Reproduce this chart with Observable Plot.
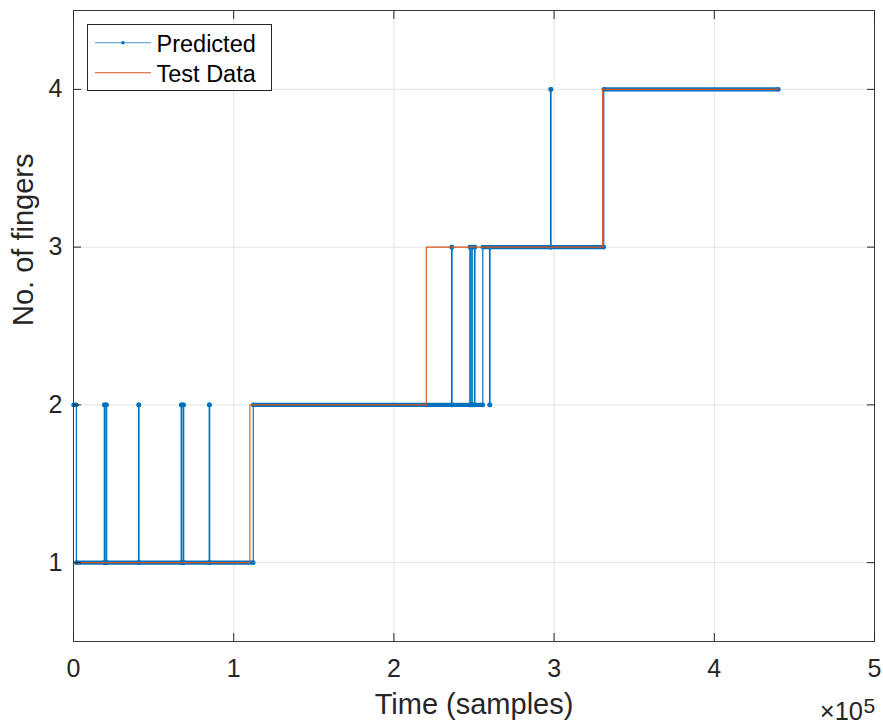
<!DOCTYPE html>
<html>
<head>
<meta charset="utf-8">
<script src="https://cdn.jsdelivr.net/npm/d3@7"></script>
<script src="https://cdn.jsdelivr.net/npm/@observablehq/plot@0.6"></script>
<style>
  html, body { margin: 0; padding: 0; background: #fff; }
  #chart svg { display: block; }
</style>
</head>
<body>
<div id="chart"></div>
<script>
// ---- data ----
const xTicks = [0, 100000, 200000, 300000, 400000, 500000];
const xTickLabels = ["0", "1", "2", "3", "4", "5"];
const yTicks = [1, 2, 3, 4];
const yTickLabels = ["1", "2", "3", "4"];

// Predicted: step change points (sample index, value)
const predX = [0, 1800, 19200, 19500, 20400, 20700, 40600, 40900, 67200, 67500,
               68500, 68800, 84700, 85000, 112200, 236000, 236300, 247400, 247700, 248600,
               248900, 250300, 250600, 255500, 259700, 260000, 297800, 298100, 331000, 440000];
const predY = [2, 1, 2, 1, 2, 1, 2, 1, 2, 1,
               2, 1, 2, 1, 2, 3, 2, 3, 2, 3,
               2, 3, 2, 3, 2, 3, 4, 3, 4, 4];

// Test Data: step change points
const testX = [0, 110100, 220200, 330300, 440000];
const testY = [1, 2, 3, 4, 4];

const seriesNames = ["Predicted", "Test Data"];
const xLabel = "Time (samples)";
const yLabel = "No. of fingers";

// ---- build tables ----
const blue = "#0072BD", orange = "#D95319";
const pred = predX.map((x, i) => ({t: x, v: predY[i]}));
const test = testX.map((x, i) => ({t: x, v: testY[i]}));
const predSegs = pred.slice(0, -1).map((d, i) => ({t1: d.t, t2: pred[i + 1].t, v: d.v}));
const predEnds = predSegs.flatMap(s => [{t: s.t1, v: s.v}, {t: s.t2, v: s.v}]);

const font = "'Liberation Sans', Arial, Helvetica, sans-serif";
const ink = "#262626";

const chart = Plot.plot({
  width: 883, height: 725,
  marginTop: 10, marginRight: 9, marginBottom: 84, marginLeft: 73,
  x: {domain: [0, 500000]},
  y: {domain: [0.5, 4.5]},
  style: {fontFamily: font, background: "#fff", color: ink},
  marks: [
    Plot.gridX(xTicks, {stroke: "#e2e2e2", strokeOpacity: 1}),
    Plot.gridY(yTicks, {stroke: "#e2e2e2", strokeOpacity: 1}),
    Plot.line(pred, {x: "t", y: "v", curve: "step-after", stroke: blue, strokeWidth: 1.2}),
    Plot.ruleY(predSegs, {y: "v", x1: "t1", x2: "t2", stroke: blue, strokeWidth: 4.2}),
    Plot.dot(predEnds, {x: "t", y: "v", r: 2.3, fill: blue, stroke: "none"}),
    Plot.line(test, {x: "t", y: "v", curve: "step-after", stroke: orange, strokeWidth: 1.1}),
    Plot.frame({stroke: "#3a3a3a", strokeWidth: 1}),
    // axes (MATLAB-style inward ticks on all sides)
    Plot.axisX(xTicks, {anchor: "bottom", tickSize: 8, dy: -8, tickPadding: 18,
      tickFormat: d => xTickLabels[xTicks.indexOf(d)], fontSize: 25, label: null, stroke: ink, fill: ink}),
    Plot.axisX(xTicks, {anchor: "top", tickSize: 8, dy: 8, tickFormat: () => "", label: null, stroke: ink}),
    Plot.axisY(yTicks, {anchor: "left", tickSize: 8, dx: 8, tickPadding: 11,
      tickFormat: d => yTickLabels[yTicks.indexOf(d)], fontSize: 25, label: null, stroke: ink, fill: ink}),
    Plot.axisY(yTicks, {anchor: "right", tickSize: 8, dx: -8, tickFormat: () => "", label: null, stroke: ink}),
    // axis titles
    Plot.text([xLabel], {text: d => d, frameAnchor: "bottom", dy: 72, lineAnchor: "bottom", fontSize: 29, fill: ink}),
    Plot.text([yLabel], {text: d => d, frameAnchor: "left", dx: -41, rotate: -90, lineAnchor: "bottom", fontSize: 29, fill: ink})
  ]
});

document.getElementById("chart").appendChild(chart);

// ---- in-axes legend and exponent label ----
const svg = d3.select(chart);
const lg = svg.append("g").attr("font-family", font).attr("text-anchor", "start");
lg.append("rect").attr("x", 87.5).attr("y", 24.5).attr("width", 184).attr("height", 66)
  .attr("fill", "#fff").attr("stroke", ink).attr("stroke-width", 1);
const entries = [
  {name: seriesNames[0], color: blue, marker: true, y: 42.7},
  {name: seriesNames[1], color: orange, marker: false, y: 72.7}
];
entries.forEach(e => {
  lg.append("line").attr("x1", 95).attr("x2", 151).attr("y1", e.y).attr("y2", e.y)
    .attr("stroke", e.color).attr("stroke-width", 1.1).attr("stroke-opacity", e.marker ? 0.75 : 1);
  if (e.marker) lg.append("circle").attr("cx", 123).attr("cy", e.y).attr("r", 1.8).attr("fill", e.color);
  lg.append("text").attr("x", 156.5).attr("y", e.y + 9.5).attr("text-anchor", "start")
    .attr("font-size", 23.5).attr("fill", "#000").text(e.name);
});
const ex = svg.append("g").attr("font-family", font).attr("fill", ink);
ex.append("text").attr("x", 863).attr("y", 719.5).attr("text-anchor", "end").attr("font-size", 25.5).text("×10");
ex.append("text").attr("x", 863.5).attr("y", 712.5).attr("text-anchor", "start").attr("font-size", 21).text("5");
</script>
</body>
</html>
